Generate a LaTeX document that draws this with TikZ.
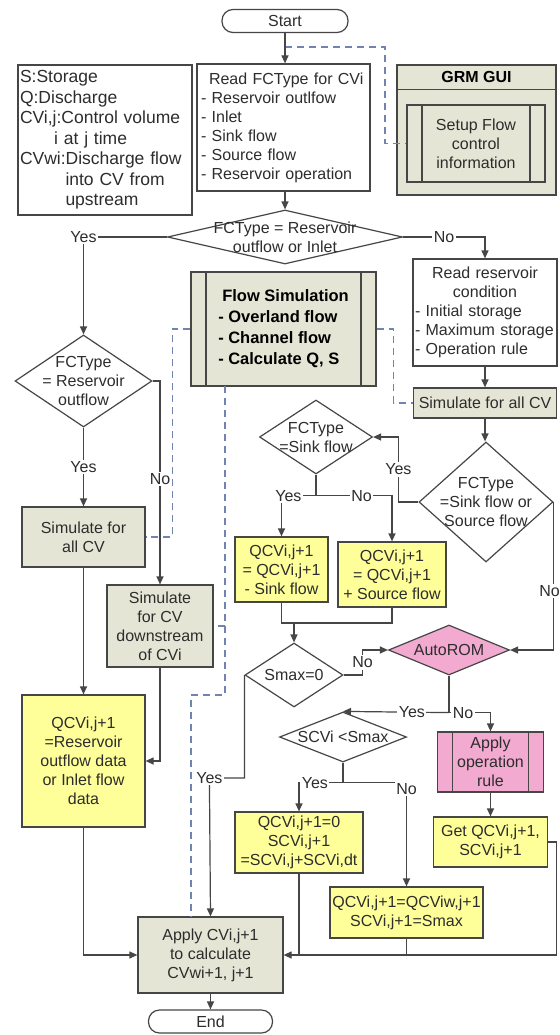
\documentclass[tikz,border=0pt]{standalone}
\usepackage{fontspec}
\setmainfont{Liberation Sans}
\usepackage{tikz}
\usetikzlibrary{arrows.meta, shapes.geometric}
\definecolor{simgrey}{RGB}{229,229,214}
\definecolor{calcyellow}{RGB}{255,255,153}
\definecolor{rulepink}{RGB}{242,170,208}
\definecolor{linegrey}{RGB}{70,70,70}
\definecolor{linkblue}{RGB}{112,132,178}
\definecolor{txtgrey}{RGB}{45,45,45}
\newcommand{\flowfont}{\fontsize{16}{19}\selectfont}
\newcommand{\notefont}{\fontsize{17.5}{20.5}\selectfont}

\begin{document}
\begin{tikzpicture}[x=1pt, y=-1pt,
  every node/.style = {inner sep=0pt, align=center, text=txtgrey, font=\flowfont},
  proc/.style     = {rectangle, draw=linegrey, line width=1.2pt},
  simbox/.style   = {proc, fill=simgrey},
  calcbox/.style  = {proc, fill=calcyellow},
  terminal/.style = {proc, rounded corners=11pt, fill=white},
  decision/.style = {diamond, draw=linegrey, line width=1.2pt, fill=white},
  predef/.style   = {proc, path picture={
      \draw[draw=linegrey, line width=1.2pt]
        ([xshift=15pt]path picture bounding box.north west) -- ([xshift=15pt]path picture bounding box.south west)
        ([xshift=-15pt]path picture bounding box.north east) -- ([xshift=-15pt]path picture bounding box.south east);}},
  lbl/.style      = {fill=white, inner sep=1.5pt},
  flow/.style     = {draw=linegrey, line width=1.2pt},
  arr/.style      = {flow, -{Stealth[length=8pt, width=7pt, inset=0pt]}},
  link/.style     = {draw=linkblue, line width=1.1pt, dash pattern=on 7pt off 5pt},
]
\path[use as bounding box, fill=white] (0,0) rectangle (559,1035);
% Top row
\node[terminal, minimum width=126pt, minimum height=23pt] (start) at (285,21) {Start};
\node[proc, minimum width=174pt, minimum height=150pt, align=left, text width=170pt, font=\notefont] (notes) at (105,140)
  {S:Storage\\Q:Discharge\\CVi,j:Control volume\\\hspace*{1.95em}i at j time\\CVwi:Discharge flow\\\hspace*{2.6em}into CV from\\\hspace*{2.6em}upstream};
\node[proc, minimum width=173pt, minimum height=127pt, align=left, text width=165pt] (readfc) at (283.5,127.5)
  {\hspace*{8pt}Read FCType for CVi\\- Reservoir outlfow\\- Inlet\\- Sink flow\\- Source flow\\- Reservoir operation};
\node[simbox, minimum width=159pt, minimum height=130pt] (gui) at (476.5,130) {};
\draw[flow] ([yshift=-25pt]gui.north west) -- ([yshift=-25pt]gui.north east);
\node[font=\flowfont\bfseries, text=black] (guititle) at ([yshift=-12.5pt]gui.north) {GRM GUI};
\node[predef, fill=simgrey, minimum width=138pt, minimum height=77pt] (setup) at (476,143.5) {Setup Flow\\control\\information};
% First decision
\node[decision, minimum width=235pt, minimum height=54pt] (d1) at (285,237) {};
\node (d1t) at (d1) {FCType = Reservoir\\outflow or Inlet};
% Reservoir / inlet branch
\node[decision, minimum width=137pt, minimum height=92pt] (d2) at (83.5,381) {};
\node (d2t) at (d2) {FCType\\= Reservoir\\outflow};
\node[simbox, minimum width=123pt, minimum height=60pt] (simL) at (83.5,537) {Simulate for\\all CV};
\node[simbox, minimum width=106pt, minimum height=82pt] (simD) at (160,626) {Simulate\\for CV\\downstream\\of CVi};
\node[calcbox, minimum width=123pt, minimum height=132pt] (yL) at (83.5,761) {QCVi,j+1\\=Reservoir\\outflow data\\or Inlet flow\\data};
% Flow simulation
\node[predef, fill=simgrey, minimum width=185pt, minimum height=114pt, align=left, text=black,
  font=\fontsize{16.5}{21}\selectfont\bfseries] (fs) at (283.5,329)
  {\hspace*{4pt}Flow Simulation\\- Overland flow\\- Channel flow\\- Calculate Q, S};
% Other flow types
\node[proc, minimum width=144pt, minimum height=107pt, align=left, text width=140pt] (rread) at (485,312.5)
  {\makebox[140pt]{Read reservoir}\\\makebox[140pt]{condition}\\- Initial storage\\- Maximum storage\\- Operation rule};
\node[simbox, minimum width=143pt, minimum height=30pt] (simR) at (485,403) {Simulate for all CV};
\node[decision, minimum width=134pt, minimum height=120pt] (d4) at (486,502) {};
\node (d4t) at (d4) {FCType\\=Sink flow or\\Source flow};
\node[decision, minimum width=113pt, minimum height=74pt] (d3) at (316,437) {};
\node (d3t) at (d3) {FCType\\=Sink flow};
\node[calcbox, minimum width=93pt, minimum height=65pt] (y1) at (281.5,569.5) {QCVi,j+1\\= QCVi,j+1\\- Sink flow};
\node[calcbox, minimum width=108pt, minimum height=65pt] (y2) at (392,574.5) {QCVi,j+1\\= QCVi,j+1\\+ Source flow};
\node[decision, minimum width=98pt, minimum height=64pt] (smax) at (294,675) {};
\node (smaxt) at (smax) {Smax=0};
\node[decision, fill=rulepink, minimum width=121pt, minimum height=50pt] (auto) at (449,650) {};
\node (autot) at (auto) {AutoROM};
\node[decision, minimum width=127pt, minimum height=50pt] (scv) at (343,737) {};
\node (scvt) at (scv) {SCVi <Smax};
\node[predef, fill=rulepink, minimum width=106pt, minimum height=60pt] (oprule) at (490.5,762) {Apply\\operation\\rule};
\node[calcbox, minimum width=114pt, minimum height=50pt] (getq) at (490.5,842) {Get QCVi,j+1,\\SCVi,j+1};
\node[calcbox, minimum width=128pt, minimum height=61pt] (y3) at (299,842.5) {QCVi,j+1=0\\SCVi,j+1\\=SCVi,j+SCVi,dt};
\node[calcbox, minimum width=153pt, minimum height=51pt] (y4) at (406.5,912.5) {QCVi,j+1=QCViw,j+1\\SCVi,j+1=Smax};
% Bottom
\node[simbox, minimum width=145pt, minimum height=76pt] (apply) at (210.5,955) {Apply CVi,j+1\\to calculate\\CVwi+1, j+1};
\node[terminal, minimum width=124pt, minimum height=23pt] (stop) at (210.5,1021.5) {End};
% Links to simulation modules
\coordinate (guitap) at (285,47);
\coordinate (fstap) at (225,386);
\coordinate (applytap) at (191,917);
\draw[link] (guitap) -- ++(100,0) |- (setup.west);
\draw[link] (fs.west) -- ++(-18,0) |- (simL.east);
\draw[link] (fs.east) -- ++(17,0) |- (simR.west);
\draw[link] (fstap) |- (simD.east);
\draw[link] (fstap) -- ++(0,309) -| (applytap);
% Main flow
\draw[arr] (start.south) -- (start.south |- readfc.north);
\draw[arr] (readfc.south -| d1.north) -- (d1.north);
\draw[arr] (d1.west) -| node[lbl, pos=0.5]{Yes} (d2.north);
\draw[arr] (d1.east) -| node[lbl, pos=0.25]{No} (rread.north);
\draw[arr] (d2.south) -- node[lbl]{Yes} (simL.north);
\draw[arr] (d2.east) -| node[lbl, pos=0.74]{No} (simD.north);
\draw[arr] (simL.south) -- (yL.north);
\draw[arr] (simD.south) |- (yL.east);
\draw[arr] (yL.south) |- (apply.west);
\draw[arr] (rread.south) -- (simR.north);
\draw[arr] (simR.south) -- (simR.south |- d4.north);
\draw[arr] (d4.west) -- ++(-20,0) |- node[lbl, pos=0.25]{Yes} (d3.east);
\draw[arr] (d4.east) |- node[lbl, pos=0.3, xshift=-4pt]{No} (auto.east);
% Sink / source
\coordinate (sinksplit) at ([yshift=-21pt]d3.south);
\coordinate (sinkjoin) at (294,623);
\draw[flow] (d3.south) -- (sinksplit);
\draw[arr] (sinksplit) -| node[lbl, pos=0.4]{Yes} (y1.north);
\draw[arr] (sinksplit) -| node[lbl, pos=0.3]{No} (y2.north);
\draw[flow] (y1.south) |- (sinkjoin);
\draw[flow] (y2.south) |- (sinkjoin);
\draw[arr] (sinkjoin) -- (smax.north);
\draw[arr] (smax.east) -- ++(19,0) |- node[lbl, pos=0.25]{No} (auto.west);
\draw[arr] (smax.west) |- ++(-35,103) node[lbl]{Yes} -- (apply.north);
% Reservoir operation
\coordinate (romsplit) at ([yshift=-37pt]auto.south);
\draw[flow] (auto.south) -- (romsplit);
\draw[arr] (romsplit) -- node[lbl, pos=0.35]{Yes} (scv.north);
\draw[arr] (romsplit) -| node[lbl, pos=0.17]{No} (oprule.north);
\draw[arr] (oprule.south) -- (getq.north);
\draw[arr] (getq.east) -- ++(8,0) |- (apply.east);
\coordinate (scvsplit) at ([yshift=-20pt]scv.south);
\draw[flow] (scv.south) -- (scvsplit);
\draw[arr] (scvsplit) -| node[lbl, pos=0.32]{Yes} (y3.north);
\draw[arr] (scvsplit) -| node[lbl, pos=0.53]{No} (y4.north);
\draw[flow] (y3.south) -- (y3.south |- apply.east);
\draw[flow] (y4.south) -- (y4.south |- apply.east);
\draw[arr] (apply.south) -- (stop.north);
\end{tikzpicture}
\end{document}
